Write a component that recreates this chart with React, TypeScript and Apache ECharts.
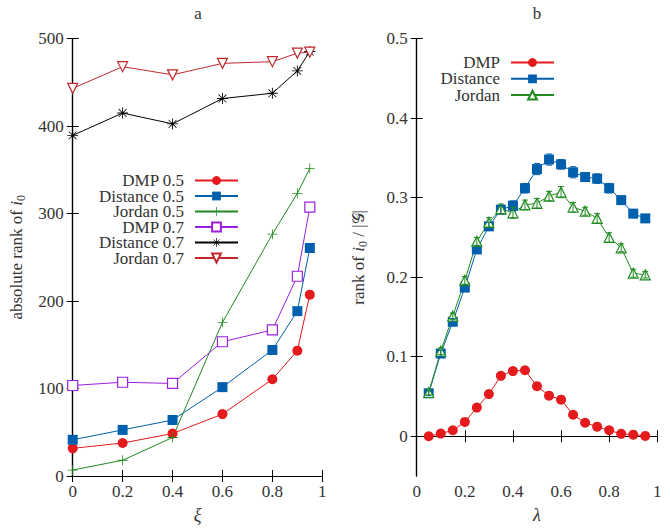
import React, { useEffect, useRef } from "react";
import * as echarts from "echarts";

// ---- panel a data ----
const xiValues = [0, 0.2, 0.4, 0.6, 0.8, 0.9, 0.95];
const dmp05 = [31.6, 37.7, 48.5, 70.8, 110.6, 143.3, 207.3];
const dist05 = [41.4, 52.7, 64, 101.6, 144.1, 188.5, 260.7];
const jordan05 = [6.8, 18, 44, 175.7, 276.5, 323.2, 351.8];
const dmp07 = [103.5, 107.2, 105.8, 153.5, 167, 228.4, 307.4];
const dist07 = [389.4, 415, 402.6, 431.6, 437.6, 463.2, 485.3];
const jordan07 = [443.2, 468, 458.7, 471.8, 473.7, 483.5, 484.6];

// ---- panel b data ----
const lambdaValues = [0.05, 0.1, 0.15, 0.2, 0.25, 0.3, 0.35, 0.4, 0.45, 0.5, 0.55, 0.6, 0.65, 0.7, 0.75, 0.8, 0.85, 0.9, 0.95];
const dmpB = [0, 0.0033, 0.0075, 0.018, 0.036, 0.053, 0.076, 0.082, 0.083, 0.063, 0.051, 0.046, 0.027, 0.017, 0.012, 0.0075, 0.003, 0.002, 0.0004];
const distB = [0.054, 0.104, 0.144, 0.187, 0.235, 0.264, 0.285, 0.29, 0.312, 0.336, 0.348, 0.342, 0.332, 0.326, 0.324, 0.312, 0.297, 0.28, 0.274];
const jordB = [0.055, 0.107, 0.151, 0.196, 0.245, 0.269, 0.286, 0.281, 0.291, 0.293, 0.302, 0.307, 0.288, 0.283, 0.274, 0.25, 0.237, 0.205, 0.203];
const distErr = [0.003, 0.004, 0.004, 0.004, 0.005, 0.005, 0.005, 0.006, 0.006, 0.007, 0.007, 0.006, 0.007, 0.005, 0.006, 0.006, 0.005, 0.005, 0.004];
const jordErr = [0.003, 0.004, 0.004, 0.005, 0.005, 0.006, 0.006, 0.007, 0.006, 0.006, 0.006, 0.007, 0.006, 0.005, 0.006, 0.006, 0.005, 0.005, 0.004];

const legendA = ["DMP 0.5", "Distance 0.5", "Jordan 0.5", "DMP 0.7", "Distance 0.7", "Jordan 0.7"];
const legendB = ["DMP", "Distance", "Jordan"];
const yTicksB = [0, 0.1, 0.2, 0.3, 0.4, 0.5];

const FONT = "'Liberation Serif', 'DejaVu Serif', serif";
const FS = 17;
const RED = "#e41a1c";
const BLUE = "#0060ad";
const GREEN = "#1f8b1f";
const PURPLE = "#9b1fe0";
const DARKRED = "#c0282c";
const TXT = "#333";

const plusPath = "path://M4.6,0H5.4V4.6H10V5.4H5.4V10H4.6V5.4H0V4.6H4.6Z";
const starPath = "path://M4.6,0H5.4V4.1L8.3,1.2L8.8,1.7L5.9,4.6H10V5.4H5.9L8.8,8.3L8.3,8.8L5.4,5.9V10H4.6V5.9L1.7,8.8L1.2,8.3L4.1,5.4H0V4.6H4.1L1.2,1.7L1.7,1.2L4.6,4.1Z";
const downTri = "path://M0,0L10,0L5,9Z";
const upTri = "path://M5,0L10,9L0,9Z";

function pairs(xs: number[], ys: number[]) {
  return xs.map((x, i) => [x, ys[i]]);
}
function triples(xs: number[], ys: number[], es: number[]) {
  return xs.map((x, i) => [x, ys[i], es[i]]);
}

const axisLineStyle = { lineStyle: { color: "#000", width: 1.2 } };
const tickStyle = { inside: true, length: 6, lineStyle: { color: "#000", width: 1 } };
const labelStyle = { fontFamily: FONT, fontSize: FS, color: TXT };

function lineSeries(name: string, xs: number[], ys: number[], color: string, symbol: string, size: number, hollow: boolean, xi: number, yi: number) {
  return {
    type: "line",
    name,
    xAxisIndex: xi,
    yAxisIndex: yi,
    data: pairs(xs, ys),
    symbol,
    symbolSize: size,
    showAllSymbol: true,
    lineStyle: { color, width: 1 },
    itemStyle: hollow
      ? { color: "#fff", borderColor: color, borderWidth: 1.2 }
      : { color, borderColor: color, borderWidth: 0 },
    emphasis: { disabled: true },
    z: 3,
  };
}

function errSeries(name: string, xs: number[], ys: number[], es: number[], color: string, xi: number, yi: number) {
  return {
    type: "custom",
    name,
    xAxisIndex: xi,
    yAxisIndex: yi,
    data: triples(xs, ys, es),
    encode: { x: 0, y: 1 },
    z: 4,
    renderItem: (params: any, api: any) => {
      const x = api.value(0);
      const y = api.value(1);
      const e = api.value(2);
      const t = api.coord([x, y + e]);
      const b = api.coord([x, y - e]);
      const st = { stroke: color, lineWidth: 1 };
      return {
        type: "group",
        children: [
          { type: "line", shape: { x1: t[0], y1: t[1], x2: b[0], y2: b[1] }, style: st },
          { type: "line", shape: { x1: t[0] - 3, y1: t[1], x2: t[0] + 3, y2: t[1] }, style: st },
          { type: "line", shape: { x1: b[0] - 3, y1: b[1], x2: b[0] + 3, y2: b[1] }, style: st },
        ],
      };
    },
  };
}

function legendItem(name: string, right: number, top: number) {
  return {
    data: [name],
    orient: "vertical",
    right,
    top,
    align: "right",
    itemWidth: 43,
    itemHeight: 11,
    itemGap: 0,
    padding: 0,
    selectedMode: false,
    textStyle: { fontFamily: FONT, fontSize: FS, lineHeight: 14, height: 14, color: TXT, padding: [0, 6, 0, 0] },
  };
}

export default function App() {
  const ref = useRef<HTMLDivElement>(null);
  useEffect(() => {
    document.body.style.margin = "0";
    const chart = echarts.init(ref.current!, undefined, { renderer: "svg" });
    const option: any = {
      animation: false,
      backgroundColor: "#fff",
      grid: [
        { left: 72.7, top: 38.7, width: 249.6, height: 443.3 },
        { left: 416.7, top: 38.7, width: 240.6, height: 443.3 },
      ],
      xAxis: [
        {
          gridIndex: 0, type: "value", min: 0, max: 1, interval: 0.2, position: "bottom",
          axisLine: axisLineStyle, axisTick: tickStyle, splitLine: { show: false },
          axisLabel: { ...labelStyle, margin: 7 },
          name: "ξ", nameLocation: "middle", nameGap: 30,
          nameTextStyle: { fontFamily: FONT, fontSize: 18, fontStyle: "italic", color: TXT },
        },
        {
          gridIndex: 0, type: "value", min: 0, max: 1, interval: 0.2, position: "top",
          axisLine: axisLineStyle, axisTick: tickStyle, splitLine: { show: false }, axisLabel: { show: false },
        },
        {
          gridIndex: 1, type: "value", min: 0, max: 1, interval: 0.2, position: "bottom",
          axisLine: axisLineStyle, axisTick: tickStyle, splitLine: { show: false },
          axisLabel: { ...labelStyle, margin: 7 },
          name: "λ", nameLocation: "middle", nameGap: 30,
          nameTextStyle: { fontFamily: FONT, fontSize: 18, fontStyle: "italic", color: TXT },
        },
        {
          gridIndex: 1, type: "value", min: 0, max: 1, interval: 0.2, position: "top",
          axisLine: axisLineStyle, axisTick: tickStyle, splitLine: { show: false }, axisLabel: { show: false },
        },
      ],
      yAxis: [
        {
          gridIndex: 0, type: "value", min: 0, max: 500, interval: 100, position: "left",
          axisLine: axisLineStyle, axisTick: tickStyle, splitLine: { show: false },
          axisLabel: { ...labelStyle, margin: 9 },
          name: "{n|absolute rank of }{i|i}{s|0}", nameLocation: "middle", nameGap: 46,
          nameTextStyle: {
            rich: {
              n: { fontFamily: FONT, fontSize: FS, color: TXT, lineHeight: 20 },
              i: { fontFamily: FONT, fontSize: FS, fontStyle: "italic", color: TXT, lineHeight: 20 },
              s: { fontFamily: FONT, fontSize: 12, color: TXT, lineHeight: 20, verticalAlign: "bottom", padding: [6, 0, 0, 0] },
            },
          },
        },
        {
          gridIndex: 0, type: "value", min: 0, max: 500, interval: 100, position: "right",
          axisLine: axisLineStyle, axisTick: tickStyle, splitLine: { show: false }, axisLabel: { show: false },
        },
        {
          gridIndex: 1, type: "value", min: -0.05, max: 0.5, position: "left",
          axisLine: axisLineStyle,
          axisTick: { ...tickStyle, customValues: yTicksB },
          splitLine: { show: false },
          axisLabel: { ...labelStyle, margin: 9, customValues: yTicksB },
          name: "{n|rank of }{i|i}{s|0}{n| / |}{g|𝒢}{n||}", nameLocation: "middle", nameGap: 48,
          nameTextStyle: {
            rich: {
              n: { fontFamily: FONT, fontSize: FS, color: TXT, lineHeight: 20 },
              i: { fontFamily: FONT, fontSize: FS, fontStyle: "italic", color: TXT, lineHeight: 20 },
              g: { fontFamily: "'DejaVu Sans', " + FONT, fontSize: 16, color: TXT, lineHeight: 20 },
              s: { fontFamily: FONT, fontSize: 12, color: TXT, lineHeight: 20, verticalAlign: "bottom", padding: [6, 0, 0, 0] },
            },
          },
        },
        {
          gridIndex: 1, type: "value", min: -0.05, max: 0.5, position: "right",
          axisLine: axisLineStyle,
          axisTick: { ...tickStyle, customValues: yTicksB },
          splitLine: { show: false }, axisLabel: { show: false },
        },
      ],
      legend: [
        ...legendA.map((n, i) => legendItem(n, 431, 172 + i * 15.5)),
        ...legendB.map((n, i) => legendItem(n, 115, 54 + i * 16.3)),
      ],
      graphic: [
        { type: "text", x: 198, y: 13, style: { text: "a", fontFamily: FONT, fontSize: FS, fill: TXT, align: "center", verticalAlign: "middle" } },
        { type: "text", x: 537, y: 13, style: { text: "b", fontFamily: FONT, fontSize: FS, fill: TXT, align: "center", verticalAlign: "middle" } },
      ],
      series: [
        lineSeries("DMP 0.5", xiValues, dmp05, RED, "circle", 10, false, 0, 0),
        lineSeries("Distance 0.5", xiValues, dist05, BLUE, "rect", 10, false, 0, 0),
        lineSeries("Jordan 0.5", xiValues, jordan05, GREEN, plusPath, 10, false, 0, 0),
        lineSeries("DMP 0.7", xiValues, dmp07, PURPLE, "rect", 10, true, 0, 0),
        lineSeries("Distance 0.7", xiValues, dist07, "#000", starPath, 11, false, 0, 0),
        lineSeries("Jordan 0.7", xiValues, jordan07, DARKRED, downTri, 10, true, 0, 0),
        lineSeries("DMP", lambdaValues, dmpB, RED, "circle", 10, false, 2, 2),
        lineSeries("Distance", lambdaValues, distB, BLUE, "rect", 10, false, 2, 2),
        lineSeries("Jordan", lambdaValues, jordB, GREEN, upTri, 10, true, 2, 2),
        errSeries("errDistance", lambdaValues, distB, distErr, BLUE, 2, 2),
        errSeries("errJordan", lambdaValues, jordB, jordErr, GREEN, 2, 2),
      ],
    };
    chart.setOption(option);
    return () => chart.dispose();
  }, []);
  return <div ref={ref} style={{ width: 670, height: 529 }} />;
}
